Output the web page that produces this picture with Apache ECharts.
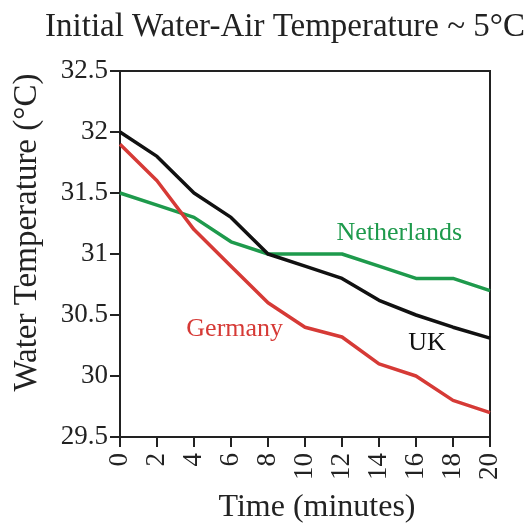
<!DOCTYPE html>
<html><head><meta charset="utf-8">
<script src="https://cdn.jsdelivr.net/npm/echarts@6/dist/echarts.min.js"></script>
<style>html,body{margin:0;padding:0;background:#fff}#c{width:529px;height:526px}</style>
</head><body><div id="c"></div>
<script>
const minutes = [0, 2, 4, 6, 8, 10, 12, 14, 16, 18, 20];
const uk = [32.0, 31.8, 31.5, 31.3, 31.0, 30.9, 30.8, 30.62, 30.5, 30.4, 30.31];
const germany = [31.9, 31.6, 31.2, 30.9, 30.6, 30.4, 30.32, 30.1, 30.0, 29.8, 29.7];
const netherlands = [31.5, 31.4, 31.3, 31.1, 31.0, 31.0, 31.0, 30.9, 30.8, 30.8, 30.7];
const labelNetherlands = [15.1, 31.17];
const labelUK = [16.6, 30.27];
const labelGermany = [6.2, 30.38];

const font = "'Liberation Serif', 'Times New Roman', serif";
function pairs(vals){ return minutes.map((m,i)=>[m, vals[i]]); }
function mk(name, vals, color, pos){
  return {
    name, type:'line', data:pairs(vals), showSymbol:false, symbol:'none',
    lineStyle:{color, width:3.5}, itemStyle:{color},
    markPoint:{symbol:'circle', symbolSize:0,
      data:[{coord:pos, value:name}],
      label:{show:true, formatter:name, color, fontFamily:font, fontSize:26, position:'inside'}}
  };
}
const chart = echarts.init(document.getElementById('c'));
chart.setOption({
  animation:false,
  title:{text:'Initial Water-Air Temperature ~ 5°C', left:280, textAlign:'center', top:6,
    textStyle:{fontFamily:font, fontSize:33, fontWeight:'normal', color:'#222'}},
  grid:{left:120, right:39, top:71, bottom:89, outerBoundsMode:'none', containLabel:false,
    show:true, borderColor:'#222', borderWidth:2, backgroundColor:'transparent'},
  xAxis:{type:'value', min:0, max:20, interval:2,
    name:'Time (minutes)', nameLocation:'middle', nameGap:55,
    nameTextStyle:{fontFamily:font, fontSize:32, color:'#222', padding:[0,0,0,24]},
    axisLine:{lineStyle:{color:'#222', width:2}},
    axisTick:{show:true, length:10, lineStyle:{color:'#222', width:2}},
    axisLabel:{rotate:90, fontFamily:font, fontSize:27, color:'#222', margin:16},
    splitLine:{show:false}},
  yAxis:{type:'value', min:29.5, max:32.5, interval:0.5,
    name:'Water Temperature (°C)', nameLocation:'middle', nameGap:76,
    nameTextStyle:{fontFamily:font, fontSize:33, color:'#222', padding:[0,0,0,43]},
    axisLine:{show:true, lineStyle:{color:'#222', width:2}},
    axisTick:{show:true, length:10, lineStyle:{color:'#222', width:2}},
    axisLabel:{fontFamily:font, fontSize:27, color:'#222', margin:12,
      formatter:v=>String(+v.toFixed(1))},
    splitLine:{show:false}},
  series:[
    mk('Netherlands', netherlands, '#1e9a4c', labelNetherlands),
    mk('Germany', germany, '#d63a36', labelGermany),
    mk('UK', uk, '#111111', labelUK)
  ]
});
</script></body></html>
